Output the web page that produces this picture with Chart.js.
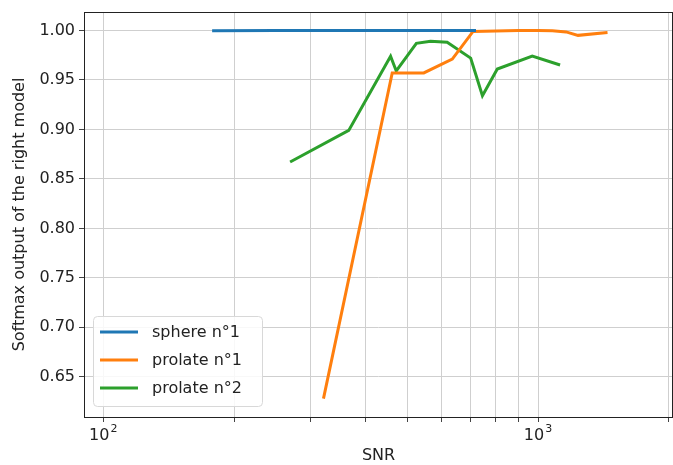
<!DOCTYPE html>
<html>
<head>
<meta charset="utf-8">
<script src="https://cdn.jsdelivr.net/npm/chart.js@4"></script>
<style>
  html, body { margin: 0; padding: 0; background: #fff; }
  #wrap { width: 673px; height: 465px; }
</style>
</head>
<body>
<div id="wrap"><canvas id="chart" width="673" height="465"></canvas></div>
<script>
// SNR values and softmax outputs
const sphere1Snr = [178, 250, 350, 500, 720];
const sphere1Out = [0.9996, 0.9998, 0.9999, 1.0, 1.0];

const prolate1Snr = [321, 462, 546, 635, 709, 800, 900, 1000, 1079, 1160, 1236, 1445];
const prolate1Out = [0.628, 0.957, 0.957, 0.971, 0.999, 0.9995, 1.0, 0.9998, 0.9997, 0.9985, 0.995, 0.998];

const prolate2Snr = [269, 367, 458, 472, 525, 566, 618, 700, 745, 806, 970, 1124];
const prolate2Out = [0.867, 0.899, 0.974, 0.959, 0.987, 0.989, 0.988, 0.972, 0.934, 0.961, 0.974, 0.965];

const xTicks = [100, 200, 300, 400, 500, 600, 700, 800, 900, 1000, 2000];
const xLabelled = [100, 1000];
const yTicks = [0.65, 0.70, 0.75, 0.80, 0.85, 0.90, 0.95, 1.00];

const FONT = "'DejaVu Sans', sans-serif";

function toPoints(xs, ys) {
  return xs.map((x, i) => ({ x: x, y: ys[i] }));
}

// Axes frame, 10^n tick labels and the legend inside the plot
const framePlugin = {
  id: "frame",
  afterDraw(chart) {
    const { ctx, chartArea: a } = chart;
    ctx.save();
    ctx.strokeStyle = "#222";
    ctx.lineWidth = 1;
    ctx.strokeRect(a.left + 0.5, a.top + 0.5, a.right - a.left - 1, a.bottom - a.top);

    // power-of-ten labels with a raised exponent
    const xs = chart.scales.x;
    ctx.fillStyle = "#222";
    ctx.textBaseline = "alphabetic";
    xLabelled.forEach((v) => {
      const px = xs.getPixelForValue(v);
      const exp = String(Math.round(Math.log10(v)));
      ctx.font = "16px " + FONT;
      const wBase = ctx.measureText("10").width;
      ctx.font = "11px " + FONT;
      const wExp = ctx.measureText(exp).width;
      const left = px - (wBase + wExp + 1) / 2;
      ctx.font = "16px " + FONT;
      ctx.fillText("10", left, a.bottom + 23);
      ctx.font = "11px " + FONT;
      ctx.fillText(exp, left + wBase + 1, a.bottom + 15);
    });

    // legend in lower left
    const bx = 93, by = 316, bw = 169, bh = 90;
    ctx.fillStyle = "rgba(255,255,255,0.85)";
    ctx.strokeStyle = "#d8d8d8";
    ctx.beginPath();
    ctx.roundRect(bx + 0.5, by + 0.5, bw, bh, 4);
    ctx.fill();
    ctx.stroke();
    ctx.font = "16px " + FONT;
    ctx.textBaseline = "middle";
    chart.data.datasets.forEach((ds, i) => {
      const y = 332 + i * 28;
      ctx.strokeStyle = ds.borderColor;
      ctx.lineWidth = 3;
      ctx.beginPath();
      ctx.moveTo(100, y);
      ctx.lineTo(138, y);
      ctx.stroke();
      ctx.fillStyle = "#222";
      ctx.fillText(ds.label, 152, y + 1);
    });
    ctx.restore();
  },
};

new Chart(document.getElementById("chart").getContext("2d"), {
  type: "line",
  data: {
    datasets: [
      { label: "sphere n°1", data: toPoints(sphere1Snr, sphere1Out), borderColor: "#1f77b4" },
      { label: "prolate n°1", data: toPoints(prolate1Snr, prolate1Out), borderColor: "#ff7f0e" },
      { label: "prolate n°2", data: toPoints(prolate2Snr, prolate2Out), borderColor: "#2ca02c" },
    ],
  },
  options: {
    responsive: false,
    animation: false,
    devicePixelRatio: 1,
    layout: { padding: { left: 0, right: 0, top: 12, bottom: 0 } },
    elements: {
      point: { radius: 0 },
      line: { borderWidth: 3, tension: 0, borderCapStyle: "butt" },
    },
    plugins: {
      legend: { display: false },
      tooltip: { enabled: false },
    },
    scales: {
      x: {
        type: "logarithmic",
        min: 90.3,
        max: 2044,
        afterBuildTicks: (scale) => {
          scale.ticks = xTicks.map((v) => ({ value: v }));
        },
        afterFit: (scale) => {
          scale.height = 48;
          scale.paddingLeft = 0;
          scale.paddingRight = 0;
        },
        ticks: {
          autoSkip: false,
          maxRotation: 0,
          color: "#222",
          font: { family: FONT, size: 16 },
          callback: () => "",
        },
        grid: { color: "#cfcfcf", lineWidth: 1, tickLength: 5, tickColor: "#444" },
        border: { display: false },
        title: {
          display: true,
          text: "SNR",
          color: "#222",
          font: { family: FONT, size: 16 },
          padding: { top: 0, bottom: 0 },
        },
      },
      y: {
        min: 0.6094,
        max: 1.0186,
        afterBuildTicks: (scale) => {
          scale.ticks = yTicks.map((v) => ({ value: v }));
        },
        afterFit: (scale) => {
          scale.width = 84;
          scale.paddingTop = 0;
          scale.paddingBottom = 0;
        },
        ticks: {
          padding: 4,
          color: "#222",
          font: { family: FONT, size: 16 },
          callback: (v) => v.toFixed(2),
        },
        grid: { color: "#cfcfcf", lineWidth: 1, tickLength: 5, tickColor: "#444" },
        border: { display: false },
        title: {
          display: true,
          text: "Softmax output of the right model",
          color: "#222",
          font: { family: FONT, size: 16 },
          padding: { top: 10, bottom: 0 },
        },
      },
    },
  },
  plugins: [framePlugin],
});
</script>
</body>
</html>
